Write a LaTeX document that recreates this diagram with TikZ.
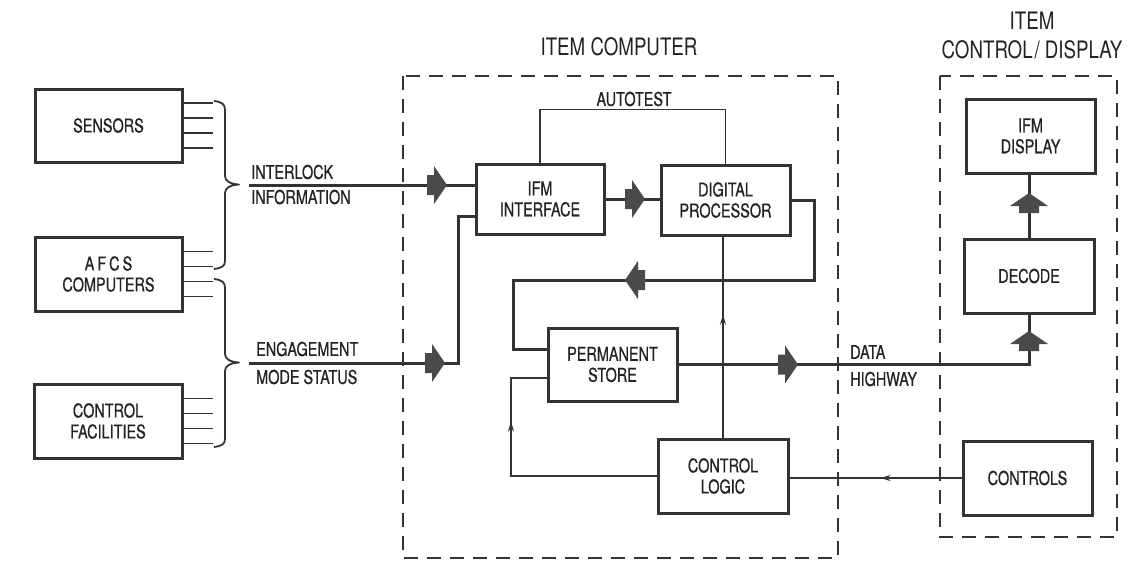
\documentclass[tikz,border=0pt]{standalone}
\usepackage{fontspec}
\setmainfont[FakeStretch=0.76, FakeBold=0.6]{TeX Gyre Heros}
\newfontfamily\titlefam[FakeStretch=0.78]{TeX Gyre Heros}
\usetikzlibrary{arrows.meta,decorations.markings}

\definecolor{ink}{HTML}{333333}
\definecolor{txt}{HTML}{222222}
\definecolor{arrowfill}{HTML}{4A4A4A}
\newcommand\boxfont{\fontsize{19}{21}\selectfont}
\newcommand\titlefont{\titlefam\fontsize{24}{29}\selectfont}

\begin{document}
\begin{tikzpicture}[x=1pt,y=-1pt,line join=miter,
  blk/.style={draw=ink, line width=3pt, fill=white, inner sep=2pt, align=center,
              minimum width=129pt, minimum height=72pt, font=\boxfont, text=txt},
  sig/.style={draw=ink, line width=3pt},
  wire/.style={draw=ink, color=ink, line width=1.4pt},
  stub/.style={draw=ink, line width=1.8pt},
  brace/.style={draw=ink, line width=1.8pt, line join=round},
  autoline/.style={draw=ink, line width=1.8pt},
  frame/.style={draw=ink, line width=1.6pt, dash pattern=on 14pt off 9pt},
  lbl/.style={font=\boxfont, text=txt, inner sep=0pt},
  title/.style={font=\titlefont, text=txt, inner sep=0pt, align=center},
  fat/.pic={\fill[arrowfill] (-20,-10) -- (-13,-10) -- (-13,-19) -- (0,0)
            -- (-13,19) -- (-13,10) -- (-20,10) -- cycle;},
  midtip/.style={postaction={decorate}, decoration={markings,
     mark=at position #1 with {\arrow{Stealth[length=10pt,width=6pt]}}}}
]
\fill[white] (0,0) rectangle (1145,562);
\useasboundingbox (0,0) rectangle (1145,562);

% dashed enclosures and their titles
\draw[frame] (403,76) rectangle (838,558);
\draw[frame] (940,76) rectangle (1117,537);
\node[title] (tIC) at (619,47) {ITEM COMPUTER};
\node[title] (tCD) at (1032,35) {ITEM\\CONTROL\kern2pt/\kern5pt DISPLAY};

% input units
\node[blk, minimum width=147pt, minimum height=73pt] (sensors) at (108.5,125.5) {SENSORS};
\node[blk, minimum width=147pt, minimum height=74pt] (afcs) at (108.5,274) {A\kern3pt F\kern3pt C\kern3pt S\\COMPUTERS};
\node[blk, minimum width=148pt, minimum height=74pt] (facil) at (108,421) {CONTROL\\FACILITIES};

\foreach \b in {sensors,afcs,facil}
  \foreach \d in {-22.5,-7.5,7.5,22.5}
    \draw[stub] ([yshift=\d pt]\b.east) -- ++(29,0);

% grouping braces
\draw[brace] (214,101) .. controls (222,102) and (225,104) .. (225,110) -- (225,176)
  .. controls (225,181) and (230,184) .. (239,184.5)
  .. controls (230,185) and (225,188) .. (225,193) -- (225,261)
  .. controls (225,266) and (222,268) .. (214,269);
\draw[brace] (214,279) .. controls (222,280) and (225,282) .. (225,288) -- (225,354)
  .. controls (225,359) and (230,362) .. (239,362.5)
  .. controls (230,363) and (225,366) .. (225,371) -- (225,439)
  .. controls (225,444) and (222,446) .. (214,447);

% computer units
\node[blk, minimum width=128pt, minimum height=70pt] (ifm) at (540,199) {IFM\\INTERFACE};
\node[blk, minimum height=70pt] (dp) at (725.5,200) {DIGITAL\\PROCESSOR};
\node[blk, minimum height=73pt] (ps) at (612.5,364.5) {PERMANENT\\STORE};
\node[blk, minimum width=130pt, minimum height=74pt] (cl) at (723,476) {CONTROL\\LOGIC};

% control / display units
\node[blk, minimum height=74pt] (disp) at (1030.5,136) {IFM\\DISPLAY};
\node[blk, minimum width=130pt, minimum height=74pt] (dec) at (1029,276) {DECODE};
\node[blk, minimum height=74pt] (ctrls) at (1027.5,478) {CONTROLS};

% interlock information
\coordinate (ilk) at (249,185);
\draw[sig] (ilk) -- (ilk -| ifm.west);
\pic at (447,185) {fat};
\node[lbl, anchor=west] (tIL) at (251,172) {INTERLOCK};
\node[lbl, anchor=west] (tIF) at (251,197) {INFORMATION};

% engagement mode status
\coordinate (eng) at (249,363);
\coordinate (engj) at (458,216);
\draw[sig] (eng) -| (engj) -- (engj -| ifm.west);
\pic at (445,363) {fat};
\node[lbl, anchor=west] (tEN) at (256,349) {ENGAGEMENT};
\node[lbl, anchor=west] (tMS) at (256,377) {MODE STATUS};

% interface to processor
\draw[sig] (ifm.east) -- (ifm.east -| dp.west);
\pic at (645,199) {fat};

% processor to permanent store
\coordinate (lpA) at (814,280);
\coordinate (lpB) at (513,349);
\draw[sig] (dp.east) -| (lpA) -- (lpA -| lpB) -- (lpB) -- (lpB -| ps.west);
\pic[rotate=180] at (625,280) {fat};

% autotest loop
\draw[autoline] (ifm.north) -- ++(0,-53) -| (dp.north);
\node[lbl] (tAT) at (634,99) {AUTOTEST};

% data highway
\draw[sig] (ps.east) -| (dec.south);
\pic at (798,364.5) {fat};
\pic[rotate=90] at (1029,331) {fat};
\node[lbl, anchor=west] (tDA) at (850,352) {DATA};
\node[lbl, anchor=west] (tHW) at (850,379) {HIGHWAY};

\draw[sig] (dec.north) -- (disp.south -| dec.north);
\pic[rotate=90] at (1029,193) {fat};

% control logic wiring
\draw[wire, midtip=123pt] (cl.north) -- (cl.north |- dp.south);
\coordinate (fbA) at (511,378);
\draw[wire, midtip=200pt] (cl.west) -| (fbA) -- (fbA -| ps.west);
\draw[wire, midtip=81pt] (ctrls.west) -- (ctrls.west -| cl.east);
\end{tikzpicture}
\end{document}
